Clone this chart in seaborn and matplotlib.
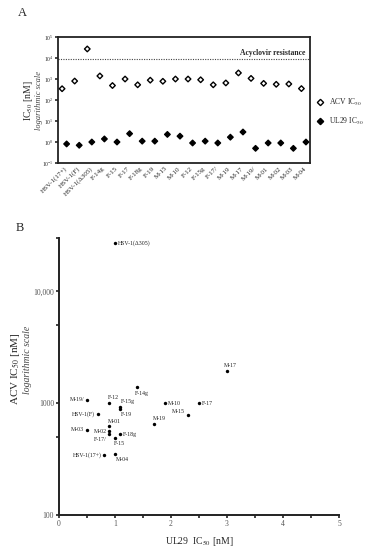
import numpy as np
import pandas as pd
import matplotlib
matplotlib.use("Agg")
import matplotlib.pyplot as plt
import seaborn as sns
from matplotlib.ticker import FixedLocator, NullFormatter, FuncFormatter

# values (IC50 in nM)
strains = ["HSV-1(17+)", "HSV-1(F)", "HSV-1(\u0394305)", "F-14g", "F-15", "F-17", "F-18g",
           "F-19", "M-15", "M-10", "F-12", "F-15g", "F-17/", "M-19", "M-17", "M-19/",
           "M-01", "M-02", "M-03", "M-04"]
acv_ic50 = [345, 800, 27000, 1400, 490, 1000, 530, 880, 780, 1000, 1000, 920, 530,
            650, 1950, 1070, 620, 560, 580, 350]
ul29_ic50 = [0.81, 0.70, 1.0, 1.4, 1.0, 2.5, 1.1, 1.1, 2.3, 1.9, 0.9, 1.1, 0.9,
             1.7, 3.0, 0.5, 0.9, 0.9, 0.5, 1.0]
resistance_cutoff = 9000

# label placement for panel B: (dx, dy in points, ha, va)
label_pos = {
    "HSV-1(17+)": (-2, 0, "right", "center"),
    "HSV-1(F)": (-2, 0, "right", "center"),
    "HSV-1(\u0394305)": (2, 0, "left", "center"),
    "F-14g": (-2, -3, "left", "top"),
    "F-15": (-1, -2, "left", "top"),
    "F-17": (2, 0, "left", "center"),
    "F-18g": (2, 0, "left", "center"),
    "F-19": (0, -2, "left", "top"),
    "M-15": (-2, 1, "right", "bottom"),
    "M-10": (2, 0, "left", "center"),
    "F-12": (-1, 2, "left", "bottom"),
    "F-15g": (0, 2, "left", "bottom"),
    "F-17/": (-2, -2, "right", "top"),
    "M-19": (-1, 2, "left", "bottom"),
    "M-17": (-2, 2, "left", "bottom"),
    "M-19/": (-2, 0, "right", "center"),
    "M-01": (-1, 2, "left", "bottom"),
    "M-02": (-2, 0, "right", "center"),
    "M-03": (-2, 0, "right", "center"),
    "M-04": (1, -2, "left", "top"),
}

sns.set_style("ticks")
plt.rcParams["font.family"] = ["Liberation Serif", "DejaVu Serif"]
plt.rcParams["mathtext.fontset"] = "stix"

fig = plt.figure(figsize=(3.87, 5.5), dpi=100)
ax_a = fig.add_axes([0.150, 0.7036, 0.651, 0.2291])
ax_b = fig.add_axes([0.152, 0.0636, 0.724, 0.5037])

# ---- panel A
n = len(strains)
idx = np.arange(n)
acv_lab = "ACV IC$_{50}$"
ul_lab = "UL29 IC$_{50}$"
long = pd.DataFrame({
    "x": np.concatenate([idx - 0.18, idx + 0.18]),
    "value": acv_ic50 + ul29_ic50,
    "measure": [acv_lab] * n + [ul_lab] * n,
})
sns.scatterplot(data=long, x="x", y="value", hue="measure",
                palette={acv_lab: "white", ul_lab: "black"}, marker="D", s=8,
                edgecolor="black", linewidth=1.0, ax=ax_a, zorder=3)
ax_a.axhline(resistance_cutoff, color="#444444", ls=(0, (1, 1.2)), lw=0.8)
ax_a.text(n - 0.9, resistance_cutoff * 1.25, "Acyclovir resistance", ha="right",
          va="bottom", fontsize=5.5, fontweight="bold")
ax_a.set_yscale("log")
ax_a.set_ylim(0.1, 1e5)
ax_a.set_xlim(-0.5, n - 0.5)
ax_a.set_xticks(idx)
ax_a.set_xticklabels(strains, rotation=45, ha="right", rotation_mode="anchor", fontsize=5)
ax_a.yaxis.set_major_locator(FixedLocator([10.0 ** k for k in range(-1, 6)]))
ax_a.yaxis.set_minor_locator(FixedLocator([]))
ax_a.tick_params(axis="y", labelsize=4, length=2.5, width=1.2, pad=1)
ax_a.tick_params(axis="x", length=0, pad=2)
ax_a.set_xlabel("")
ax_a.set_ylabel("")
for sp in ax_a.spines.values():
    sp.set_linewidth(1.3)
    sp.set_color("#222222")
leg = ax_a.legend(loc="upper left", bbox_to_anchor=(1.01, 0.55), frameon=False,
                  fontsize=5.5, handletextpad=0.6, labelspacing=1.0, borderaxespad=0,
                  handlelength=1.2)
for h in leg.legend_handles:
    h.set_markeredgecolor("black")
    h.set_markeredgewidth(1.0)
    h.set_markersize(3.2)
fig.text(0.074, 0.818, "IC$_{50}$ [nM]", rotation=90, ha="center", va="center", fontsize=7)
fig.text(0.100, 0.818, "logarithmic scale", rotation=90, ha="center", va="center",
         fontsize=6, style="italic", color="#444444")
fig.text(0.057, 0.977, "A", fontsize=9, ha="center", va="center")

# ---- panel B
df_b = pd.DataFrame({"strain": strains, "ul29": ul29_ic50, "acv": acv_ic50})
sns.scatterplot(data=df_b, x="ul29", y="acv", color="black", s=6, edgecolor="black",
                linewidth=0, ax=ax_b, zorder=3)
for _, r in df_b.iterrows():
    dx, dy, ha, va = label_pos[r["strain"]]
    ax_b.annotate(r["strain"], (r["ul29"], r["acv"]), xytext=(dx, dy),
                  textcoords="offset points", ha=ha, va=va, fontsize=4.2, color="#222222")
ax_b.set_yscale("log")
ax_b.set_ylim(100, 30000)
ax_b.set_xlim(0, 5)
ax_b.xaxis.set_major_locator(FixedLocator(range(6)))
ax_b.xaxis.set_minor_locator(FixedLocator(np.arange(0.5, 5, 1.0)))
ax_b.yaxis.set_major_locator(FixedLocator([100, 1000, 10000]))
ax_b.yaxis.set_minor_locator(FixedLocator([500, 5000, 30000]))
ax_b.yaxis.set_major_formatter(FuncFormatter(lambda v, p: f"{int(v):,}" if v >= 10000 else f"{int(v)}"))
ax_b.yaxis.set_minor_formatter(NullFormatter())
ax_b.tick_params(which="both", labelsize=5.5, length=2.5, width=1.2, pad=1, colors="#222222",
                 labelcolor="#555555")
sns.despine(ax=ax_b)
for sp in ["left", "bottom"]:
    ax_b.spines[sp].set_linewidth(1.4)
    ax_b.spines[sp].set_color("#222222")
ax_b.set_xlabel("UL29  IC$_{50}$ [nM]", fontsize=7, labelpad=5)
ax_b.set_ylabel("")
fig.text(0.04, 0.33, "ACV IC$_{50}$ [nM]", rotation=90, ha="center", va="center", fontsize=8)
fig.text(0.07, 0.345, "logarithmic scale", rotation=90, ha="center", va="center",
         fontsize=7, style="italic", color="#444444")
fig.text(0.052, 0.585, "B", fontsize=9, ha="center", va="center")

fig.savefig("out.png", dpi=100)
